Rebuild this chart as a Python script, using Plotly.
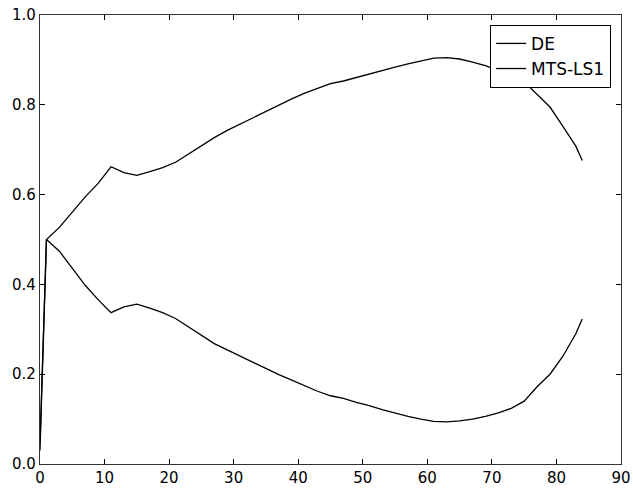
import plotly.graph_objects as go

x_vals = [0, 1, 3, 5, 7, 9, 11, 13, 15, 17, 19, 21, 23, 25, 27, 29, 31, 33, 35, 37, 39,
          41, 43, 45, 47, 49, 51, 53, 55, 57, 59, 61, 63, 65, 67, 69, 71, 73, 75, 77,
          79, 81, 83, 84]

de_vals = [0.05, 0.5, 0.527, 0.562, 0.595, 0.625, 0.662, 0.649, 0.643, 0.651, 0.660,
           0.672, 0.690, 0.708, 0.727, 0.743, 0.757, 0.772, 0.786, 0.800, 0.813, 0.826,
           0.837, 0.847, 0.853, 0.861, 0.869, 0.876, 0.884, 0.891, 0.897, 0.904, 0.905,
           0.902, 0.895, 0.887, 0.876, 0.865, 0.851, 0.822, 0.795, 0.752, 0.708, 0.676]

mts_vals = [0.03, 0.5, 0.474, 0.435, 0.398, 0.366, 0.337, 0.350, 0.356, 0.347, 0.337,
            0.324, 0.305, 0.286, 0.268, 0.254, 0.240, 0.227, 0.213, 0.199, 0.187, 0.174,
            0.162, 0.152, 0.146, 0.137, 0.130, 0.121, 0.113, 0.106, 0.100, 0.095, 0.094,
            0.096, 0.100, 0.106, 0.114, 0.124, 0.140, 0.172, 0.200, 0.240, 0.290, 0.323]

series_names = ["DE", "MTS-LS1"]
x_ticks = [0, 10, 20, 30, 40, 50, 60, 70, 80, 90]
y_ticks = [0.0, 0.2, 0.4, 0.6, 0.8, 1.0]

fig = go.Figure()
for name, vals in zip(series_names, [de_vals, mts_vals]):
    fig.add_trace(go.Scatter(x=x_vals, y=vals, mode="lines", name=name,
                             line=dict(color="black", width=1.3)))

axis_common = dict(showline=True, linecolor="#333", linewidth=1.3, mirror="ticks",
                   ticks="inside", ticklen=5, tickwidth=1.2, tickcolor="black",
                   showgrid=False, zeroline=False, automargin=False,
                   tickfont=dict(family="DejaVu Sans", size=15, color="black"))

fig.update_xaxes(range=[0, 90], tickvals=x_ticks, **axis_common)
fig.update_yaxes(range=[0, 1], tickvals=y_ticks, tickformat=".1f", **axis_common)

fig.update_layout(
    width=633, height=490,
    margin=dict(l=40, r=12, t=15, b=26),
    paper_bgcolor="white", plot_bgcolor="white",
    font=dict(family="DejaVu Sans", color="black"),
    legend=dict(x=0.983, y=0.978, xanchor="right", yanchor="top",
                bgcolor="white", bordercolor="black", borderwidth=1,
                font=dict(family="DejaVu Sans", size=17, color="black"),
                itemwidth=30, entrywidth=135, entrywidthmode="pixels"),
)

fig.write_html("out.html")
